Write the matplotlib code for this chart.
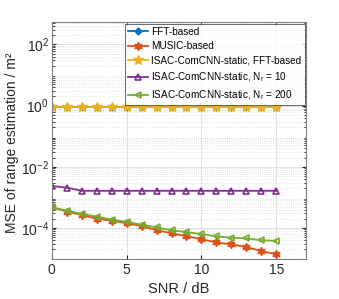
import matplotlib
matplotlib.use("Agg")
import matplotlib.pyplot as plt
import numpy as np

plt.rcParams['font.family'] = ['Liberation Sans', 'DejaVu Sans']
plt.rcParams['mathtext.fontset'] = 'custom'
plt.rcParams['mathtext.rm'] = 'Liberation Sans'
plt.rcParams['mathtext.it'] = 'Liberation Sans'

# SNR axis
snr = list(range(16))

# MSE values
fft_based = [0.9] * 16
music_based = [4.8e-4, 3.45e-4, 2.68e-4, 2.02e-4, 1.74e-4, 1.43e-4, 1.16e-4, 8.6e-5,
               6.7e-5, 5.4e-5, 4.3e-5, 3.4e-5, 2.9e-5, 2.4e-5, 1.78e-5, 1.39e-5]
isac_fft = [0.9] * 16
isac_nr10 = [2.36e-3, 2.09e-3] + [1.65e-3] * 14
isac_nr200 = [4.8e-4, 3.7e-4, 2.9e-4, 2.36e-4, 1.88e-4, 1.58e-4, 1.29e-4, 1.05e-4,
              8.4e-5, 7.4e-5, 6.3e-5, 5.4e-5, 4.8e-5, 4.6e-5, 4.0e-5, 3.8e-5]

labels = ['FFT-based', 'MUSIC-based', 'ISAC-ComCNN-static, FFT-based',
          'ISAC-ComCNN-static, N$_r$ = 10', 'ISAC-ComCNN-static, N$_r$ = 200']
colors = ['#0072BD', '#D95319', '#EDB120', '#7E2F8E', '#77AC30']

fig = plt.figure(figsize=(3.39, 2.99), dpi=100)
ax = fig.add_axes([0.153, 0.135, 0.75, 0.79])

hexagram = (6, 1, 0)
ax.plot(snr, fft_based, color=colors[0], marker='D', ms=3.5, lw=1.3, label=labels[0])
ax.plot(snr, music_based, color=colors[1], marker=hexagram, ms=6, lw=1.3, label=labels[1])
ax.plot(snr, isac_fft, color=colors[2], marker='*', ms=7, lw=1.3, label=labels[2])
ax.plot(snr, isac_nr10, color=colors[3], marker='^', ms=5, mfc='none', mew=1.2, lw=1.3, label=labels[3])
ax.plot(snr, isac_nr200, color=colors[4], marker='<', ms=5, mfc='none', mew=1.2, lw=1.3, label=labels[4])

ax.set_yscale('log')
ax.set_xlim(0, 17)
ax.set_ylim(1e-5, 10**2.72)
ax.set_xticks([0, 5, 10, 15])
ax.set_yticks([1e-4, 1e-2, 1e0, 1e2])
ax.yaxis.set_minor_locator(matplotlib.ticker.LogLocator(base=10, subs=np.arange(2, 10), numticks=20))
ax.yaxis.set_minor_formatter(matplotlib.ticker.NullFormatter())

ax.grid(True, which='major', color='#dcdcdc', lw=0.6)
ax.grid(True, which='minor', axis='y', color='#dcdcdc', lw=0.6, ls=':')
ax.set_axisbelow(True)
ax.tick_params(direction='in', which='both', top=True, right=True, colors='#262626',
               labelsize=10, length=3)
ax.tick_params(which='minor', length=1.8)
ax.tick_params(axis='y', which='major', pad=2)
for s in ax.spines.values():
    s.set_color('#808080')
    s.set_linewidth(0.8)

ax.set_xlabel('SNR / dB', fontsize=10.5, color='#262626', labelpad=3)
ax.set_ylabel('MSE of range estimation / m²', fontsize=10, color='#262626')
ax.yaxis.set_label_coords(-0.128, 0.49)

leg = ax.legend(loc='upper right', fontsize=7.2, frameon=True, fancybox=False,
                edgecolor='#262626', borderaxespad=0.15, handlelength=2.0,
                handletextpad=0.3, labelspacing=0.45, borderpad=0.3)
leg.get_frame().set_linewidth(0.6)

fig.savefig('out.png', dpi=100)
